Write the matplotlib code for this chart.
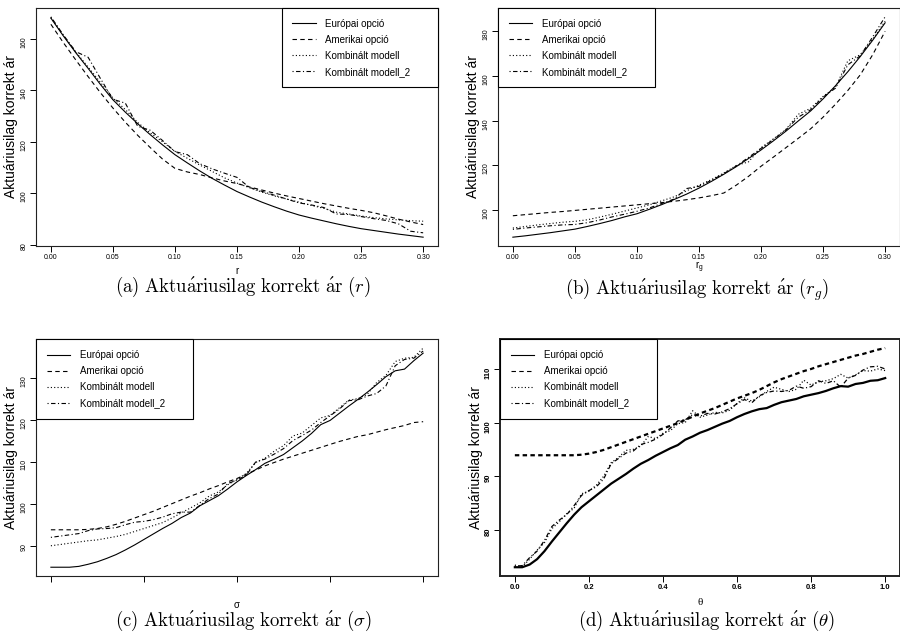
import numpy as np
import matplotlib.pyplot as plt
from matplotlib.lines import Line2D

plt.rcParams['font.family'] = ['Liberation Sans', 'DejaVu Sans']
plt.rcParams['mathtext.fontset'] = 'cm'

labels = ['Európai opció', 'Amerikai opció', 'Kombinált modell', 'Kombinált modell_2']
ylab = 'Aktuáriusilag korrekt ár'

# ---- (a) r ----
r_vals = np.linspace(0.0, 0.30, 31)
a_eu = [168.0, 161.1, 154.6, 148.5, 142.2, 136.3, 131.5, 127.0, 122.8, 118.8, 115.0,
        111.8, 108.7, 105.8, 103.2, 100.7, 98.6, 96.6, 94.8, 93.1, 91.6,
        90.4, 89.3, 88.2, 87.2, 86.3, 85.6, 84.9, 84.2, 83.6, 83.0]
a_am = [165.6, 158.5, 151.8, 145.3, 139.0, 133.1, 127.6, 122.5, 117.8, 113.3, 109.7,
        108.3, 107.3, 106.0, 104.8, 103.8, 102.5, 101.3, 100.1, 99.0, 98.0,
        97.0, 96.0, 95.1, 94.2, 93.4, 92.5, 91.3, 90.0, 88.9, 87.9]
a_k1 = [168.2, 161.3, 154.9, 149.0, 143.0, 137.0, 132.5, 127.5, 123.5, 120.0, 116.3,
        113.6, 111.0, 108.5, 106.0, 104.0, 102.2, 100.5, 99.0, 97.8, 96.6,
        95.3, 94.2, 92.7, 92.0, 91.2, 90.6, 90.1, 89.7, 89.4, 89.2]
a_k2 = [168.5, 161.5, 155.0, 152.8, 144.5, 136.5, 135.0, 126.0, 124.5, 120.5, 116.2,
        115.0, 111.5, 109.5, 107.8, 106.2, 102.3, 100.8, 99.3, 97.8, 96.3,
        95.5, 94.5, 92.0, 91.8, 91.0, 90.2, 89.5, 88.2, 85.3, 84.7]

# ---- (b) r_g ----
rg_vals = np.linspace(0.0, 0.30, 31)
b_eu = [87.7, 88.3, 89.0, 89.7, 90.5, 91.3, 92.5, 93.8, 95.2, 96.8, 98.2,
        100.2, 102.3, 104.6, 107.0, 109.7, 112.7, 115.9, 119.3, 123.0, 126.8,
        130.9, 135.2, 139.8, 144.3, 149.7, 155.6, 161.9, 168.7, 176.0, 183.8]
b_am = [97.3, 97.8, 98.3, 98.8, 99.2, 99.7, 100.2, 100.7, 101.2, 101.7, 102.2,
        102.7, 103.2, 103.8, 104.5, 105.3, 106.3, 107.5, 111.0, 115.0, 119.5,
        123.6, 127.8, 132.0, 136.3, 141.5, 147.3, 153.5, 160.5, 169.5, 180.0]
b_k1 = [91.8, 92.5, 93.2, 93.8, 94.4, 94.8, 95.5, 96.7, 98.0, 99.4, 100.8,
        102.2, 104.0, 105.8, 108.5, 111.0, 113.5, 116.5, 119.8, 121.5, 127.8,
        131.8, 136.0, 142.8, 145.5, 150.8, 155.0, 166.8, 169.5, 176.5, 184.5]
b_k2 = [91.2, 91.8, 92.3, 92.8, 93.2, 93.4, 94.2, 95.4, 96.8, 98.0, 99.3,
        100.8, 102.8, 104.8, 109.5, 110.5, 113.2, 116.2, 119.6, 123.5, 127.5,
        131.5, 135.8, 141.5, 144.8, 150.5, 154.5, 165.0, 169.0, 177.5, 186.5]

# ---- (c) sigma ----
s_vals = np.linspace(0.10, 0.50, 41)
c_eu = [84.9, 84.9, 84.9, 85.1, 85.6, 86.2, 87.0, 87.9, 89.0, 90.2, 91.5,
        92.8, 94.1, 95.3, 96.7, 97.8, 99.5, 100.7, 101.9, 103.5, 105.2,
        106.7, 108.1, 109.6, 110.6, 111.7, 113.3, 114.9, 116.7, 118.8, 119.8,
        121.5, 123.2, 124.8, 126.5, 128.3, 130.2, 131.6, 132.0, 134.0, 135.8]
c_am = [93.8, 93.8, 93.8, 93.8, 93.9, 94.1, 94.5, 95.1, 95.8, 96.6, 97.4,
        98.2, 99.1, 100.0, 100.9, 101.8, 102.6, 103.5, 104.3, 105.2, 106.0,
        107.0, 108.0, 109.0, 109.8, 110.6, 111.3, 112.0, 112.7, 113.4, 114.1,
        114.8, 115.4, 116.0, 116.4, 117.0, 117.6, 118.1, 118.6, 119.3, 119.5]
c_k1 = [90.0, 90.3, 90.6, 90.9, 91.2, 91.4, 91.8, 92.2, 92.7, 93.4, 94.1,
        94.8, 95.5, 96.6, 97.8, 99.0, 100.2, 101.8, 102.8, 104.5, 105.8,
        107.2, 109.8, 110.8, 112.5, 113.8, 116.1, 116.8, 118.6, 120.4, 121.0,
        122.8, 124.6, 125.0, 126.0, 128.8, 130.5, 133.8, 134.6, 134.8, 137.0]
c_k2 = [92.0, 92.3, 92.6, 92.9, 93.6, 94.0, 94.1, 94.3, 95.0, 95.6, 95.8,
        96.2, 96.8, 97.6, 98.0, 98.0, 99.6, 101.2, 102.3, 104.8, 105.6,
        106.8, 109.9, 110.6, 111.8, 113.1, 115.0, 116.2, 117.5, 119.3, 120.9,
        122.5, 124.5, 124.7, 125.6, 126.2, 128.0, 132.8, 134.3, 134.6, 136.3]

# ---- (d) theta ----
th_vals = np.linspace(0.0, 1.0, 51)
d_eu = [73.0, 73.0, 73.5, 74.5, 76.0, 77.8, 79.5, 81.2, 82.8, 84.2, 85.3,
        86.4, 87.5, 88.6, 89.5, 90.4, 91.4, 92.3, 93.0, 93.8, 94.5,
        95.2, 95.8, 96.8, 97.4, 98.1, 98.6, 99.2, 99.8, 100.3, 101.0,
        101.6, 102.1, 102.5, 102.7, 103.3, 103.8, 104.1, 104.4, 104.9, 105.2,
        105.5, 105.9, 106.4, 106.8, 106.7, 107.2, 107.4, 107.8, 107.9, 108.3]
d_am = [93.9, 93.9, 93.9, 93.9, 93.9, 93.9, 93.9, 93.9, 93.9, 94.0, 94.2,
        94.5, 94.9, 95.4, 95.9, 96.4, 96.9, 97.4, 97.9, 98.4, 98.9,
        99.4, 99.9, 100.5, 101.1, 101.7, 102.2, 102.7, 103.3, 103.9, 104.5,
        105.0, 105.5, 106.1, 106.8, 107.5, 108.1, 108.6, 109.1, 109.6, 110.0,
        110.5, 110.9, 111.3, 111.7, 112.1, 112.5, 112.8, 113.2, 113.6, 113.9]
d_k1 = [73.4, 73.1, 74.5, 76.2, 77.6, 80.2, 81.5, 83.0, 84.0, 86.7, 87.2,
        88.3, 90.0, 92.5, 93.5, 94.8, 95.0, 95.6, 97.4, 97.0, 98.0,
        98.5, 99.8, 100.0, 102.2, 101.0, 101.4, 101.9, 101.8, 102.3, 103.6,
        104.6, 104.0, 104.8, 105.8, 106.6, 106.2, 105.8, 106.2, 107.9, 107.0,
        107.6, 107.8, 108.2, 109.0, 108.3, 108.9, 109.7, 109.6, 110.0, 109.7]
d_k2 = [73.2, 73.3, 74.8, 76.0, 78.0, 80.6, 81.8, 82.8, 84.5, 86.4, 87.3,
        88.0, 89.5, 92.3, 93.3, 94.3, 94.7, 95.9, 96.3, 96.9, 97.8,
        99.0, 100.3, 100.5, 101.5, 101.2, 101.7, 101.6, 102.0, 102.6, 103.5,
        104.3, 103.7, 105.0, 105.6, 105.9, 105.8, 106.0, 106.8, 106.4, 106.7,
        107.8, 107.3, 107.8, 106.6, 108.3, 108.8, 109.8, 110.4, 110.5, 110.0]

dash_styles = ['-', (0, (4, 3)), (0, (1, 2)), (0, (1, 2.2, 4, 2.2))]


def r_lim(arrs):
    # R style: range plus 4% on both sides
    lo = min(np.min(a) for a in arrs)
    hi = max(np.max(a) for a in arrs)
    d = (hi - lo) * 0.04
    return lo - d, hi + d


def panel(ax, x, series, lws, bold=False):
    for y, ls, lw in zip(series, dash_styles, lws):
        if isinstance(ls, tuple):
            ls = (0, tuple(v * 0.8 / lw for v in ls[1]))
        ax.plot(x, y, color='black', lw=lw, ls=ls)
    ax.set_xlim(*r_lim([x]))
    ax.set_ylim(*r_lim(series))
    ax.tick_params(direction='out', length=4, width=0.7, labelsize=5, pad=2)
    ax.tick_params(axis='y', labelrotation=90)
    for sp in ax.spines.values():
        sp.set_linewidth(1.4 if bold else 0.8)
        sp.set_color('#222222')
    ax.set_ylabel(ylab, fontsize=10)
    ax.yaxis.set_label_coords(-0.044, 0.5)


def add_legend(ax, loc, anchor):
    handles = [Line2D([], [], color='black', lw=0.8, ls=s) for s in dash_styles]
    leg = ax.legend(handles, labels, loc=loc, bbox_to_anchor=anchor, mode='expand',
                    fontsize=7, fancybox=False, edgecolor='black', framealpha=1,
                    borderpad=1.1, labelspacing=0.62, handlelength=2.4,
                    handletextpad=1.0, borderaxespad=0)
    leg.get_frame().set_linewidth(0.8)


fig = plt.figure(figsize=(9, 6.34), dpi=100)

ax1 = fig.add_axes([0.04, 0.612, 0.4467, 0.3754])
panel(ax1, r_vals, [a_eu, a_am, a_k1, a_k2], [0.8] * 4)
ax1.set_xticks([0.0, 0.05, 0.10, 0.15, 0.20, 0.25, 0.30])
ax1.set_xticklabels(['0.00', '0.05', '0.10', '0.15', '0.20', '0.25', '0.30'])
ax1.set_yticks([80, 100, 120, 140, 160])
ax1.set_xlabel('r', fontsize=7)
ax1.xaxis.set_label_coords(0.5, -0.085)
add_legend(ax1, 'upper right', (0.611, 0, 0.389, 1))

ax2 = fig.add_axes([0.5533, 0.612, 0.4467, 0.3754])
panel(ax2, rg_vals, [b_eu, b_am, b_k1, b_k2], [0.8] * 4)
ax2.set_xticks([0.0, 0.05, 0.10, 0.15, 0.20, 0.25, 0.30])
ax2.set_xticklabels(['0.00', '0.05', '0.10', '0.15', '0.20', '0.25', '0.30'])
ax2.set_yticks([100, 120, 140, 160, 180])
ax2.set_xlabel(r'$\mathregular{r_g}$', fontsize=7)
ax2.xaxis.set_label_coords(0.5, -0.058)
add_legend(ax2, 'upper left', (0, 0, 0.39, 1))

ax3 = fig.add_axes([0.04, 0.0915, 0.4467, 0.3733])
panel(ax3, s_vals, [c_eu, c_am, c_k1, c_k2], [0.8] * 4)
ax3.set_xticks([0.1, 0.2, 0.3, 0.4, 0.5])
ax3.set_xticklabels([])
ax3.set_yticks([90, 100, 110, 120, 130])
ax3.set_xlabel('σ', fontsize=7)
ax3.xaxis.set_label_coords(0.5, -0.1)
add_legend(ax3, 'upper left', (0, 0, 0.391, 1))

ax4 = fig.add_axes([0.5556, 0.0915, 0.4444, 0.3733])
panel(ax4, th_vals, [d_eu, d_am, d_k1, d_k2], [1.6, 1.6, 0.9, 0.9], bold=True)
ax4.set_xticks([0.0, 0.2, 0.4, 0.6, 0.8, 1.0])
ax4.set_yticks([80, 90, 100, 110])
ax4.tick_params(labelsize=5.5)
for lab in ax4.get_xticklabels() + ax4.get_yticklabels():
    lab.set_fontweight('bold')
ax4.set_xlabel('θ', fontsize=8, family=['Liberation Serif', 'DejaVu Serif'])
ax4.xaxis.set_label_coords(0.5, -0.095)
ax4.yaxis.set_label_coords(-0.0425, 0.5)
add_legend(ax4, 'upper left', (0, 0, 0.393, 1))

caps = [
    (243, 292, r'$\mathrm{(a)\ Aktu\acute{a}riusilag\ korrekt\ \acute{a}r\ }(r)$'),
    (697, 295, r'$\mathrm{(b)\ Aktu\acute{a}riusilag\ korrekt\ \acute{a}r\ }(r_g)$'),
    (243, 626, r'$\mathrm{(c)\ Aktu\acute{a}riusilag\ korrekt\ \acute{a}r\ }(\sigma)$'),
    (706, 626, r'$\mathrm{(d)\ Aktu\acute{a}riusilag\ korrekt\ \acute{a}r\ }(\theta)$'),
]
for cx, cy, txt in caps:
    fig.text(cx / 900, 1 - cy / 634, txt, fontsize=13.5, ha='center', va='baseline')

fig.savefig('out.png', dpi=100)
